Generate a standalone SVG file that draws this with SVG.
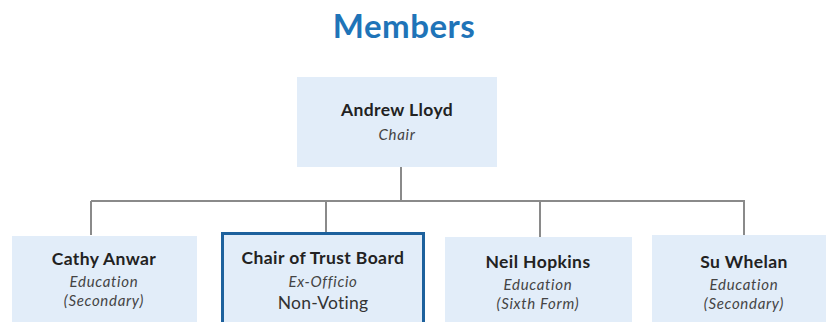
<svg xmlns="http://www.w3.org/2000/svg" width="826" height="322" viewBox="0 0 826 322">
<style>
.box{fill:#e2edf9}
.hl{fill:#e2edf9;stroke:#1d619d;stroke-width:3}
.t{font-family:Lato,"Noto Sans",sans-serif;text-anchor:middle;fill:#222}
.n{font-weight:bold;font-size:17.5px;letter-spacing:0.4px}
.r{font-style:italic;font-size:15px;fill:#444;letter-spacing:0.7px}
.p{font-size:17.5px;fill:#333;letter-spacing:0.2px}
.ln{stroke:#8a8a8a;stroke-width:2;fill:none}
</style>
<rect width="826" height="322" fill="#ffffff"/>
<text x="404" y="38" font-family="Lato,'Noto Sans',sans-serif" font-weight="bold" font-size="33" letter-spacing="0.5" fill="#1f74b8" text-anchor="middle">Members</text>
<g id="connectors">
<path class="ln" d="M401 167V201M91 201H745M91 201V235M326 201V232M540 201V237M744 201V235"/>
</g>
<g id="andrew">
<rect class="box" x="297" y="77" width="200" height="90"/>
<text class="t n" x="397" y="116">Andrew Lloyd</text>
<text class="t r" x="397" y="140">Chair</text>
</g>
<g id="cathy">
<rect class="box" x="12" y="236" width="185" height="90"/>
<text class="t n" x="104" y="265">Cathy Anwar</text>
<text class="t r" x="104" y="287">Education</text>
<text class="t r" x="104" y="306">(Secondary)</text>
</g>
<g id="chair-trust">
<rect class="hl" x="222.5" y="233.5" width="201" height="95"/>
<text class="t n" x="323" y="264">Chair of Trust Board</text>
<text class="t r" x="323" y="287">Ex-Officio</text>
<text class="t p" x="323" y="309">Non-Voting</text>
</g>
<g id="neil">
<rect class="box" x="445" y="237" width="187" height="90"/>
<text class="t n" x="538" y="268">Neil Hopkins</text>
<text class="t r" x="538" y="290">Education</text>
<text class="t r" x="538" y="309">(Sixth Form)</text>
</g>
<g id="su">
<rect class="box" x="652" y="235" width="184" height="90"/>
<text class="t n" x="744" y="268">Su Whelan</text>
<text class="t r" x="744" y="290">Education</text>
<text class="t r" x="744" y="309">(Secondary)</text>
</g>
</svg>
